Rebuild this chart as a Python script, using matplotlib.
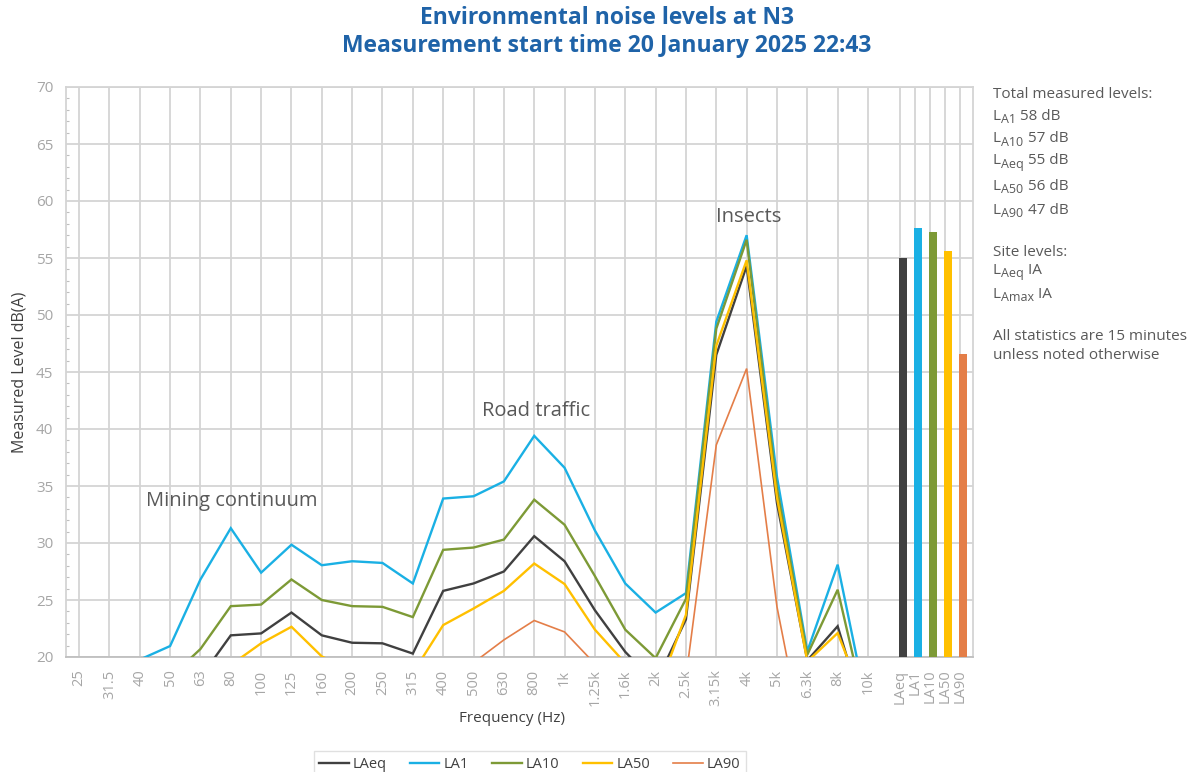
import numpy as np
import matplotlib
matplotlib.use("Agg")
import matplotlib.pyplot as plt
from matplotlib.ticker import MultipleLocator

plt.rcParams['font.family'] = ['Open Sans', 'DejaVu Sans']

# ---------------- data ----------------
freqs = ["25", "31.5", "40", "50", "63", "80", "100", "125", "160", "200", "250",
         "315", "400", "500", "630", "800", "1k", "1.25k", "1.6k", "2k", "2.5k",
         "3.15k", "4k", "5k", "6.3k", "8k", "10k"]

LAeq = [12, 13, 15, 16.5, 18.2, 21.9, 22.07, 23.9, 21.9, 21.25, 21.2, 20.3, 25.8, 26.45,
        27.5, 30.6, 28.4, 24.1, 20.45, 17.7, 23.3, 46.5, 54.3, 33.5, 19.7, 22.7, 13.9]
LA1 = [14, 16, 19.77, 20.96, 26.8, 31.3, 27.4, 29.85, 28.05, 28.4, 28.25, 26.45, 33.9, 34.1,
       35.4, 39.4, 36.6, 31.1, 26.45, 23.9, 25.6, 49.4, 57.0, 35.8, 20.5, 28.1, 15.2]
LA10 = [13, 14, 16, 18.2, 20.7, 24.46, 24.6, 26.8, 25.0, 24.46, 24.4, 23.5, 29.4, 29.6,
        30.3, 33.8, 31.6, 27.1, 22.4, 19.9, 25.1, 48.8, 56.6, 34.8, 20.2, 25.9, 14.4]
LA50 = [11, 12, 13, 15, 17, 19.3, 21.2, 22.65, 20.05, 18.8, 18.9, 18.6, 22.8, 24.25,
        25.8, 28.2, 26.4, 22.4, 19.46, 16.5, 23.7, 47.3, 54.8, 34.0, 19.6, 22.1, 15.3]
LA90 = [8, 9, 10, 11, 12, 13, 14, 15, 14, 14, 15, 16, 17.5, 19.5, 21.5, 23.2, 22.2, 19.4,
        16, 15, 18.2, 38.6, 45.3, 24.4, 10.9, 12, 10]

bar_labels = ["LAeq", "LA1", "LA10", "LA50", "LA90"]
bar_values = [55.0, 57.6, 57.3, 55.6, 46.6]

series_names = ["LAeq", "LA1", "LA10", "LA50", "LA90"]
series_values = [LAeq, LA1, LA10, LA50, LA90]
colors = ["#404040", "#1AB0E4", "#7D9A36", "#FFC000", "#E47E48"]
widths = [1.7, 1.7, 1.7, 1.7, 1.2]

# (main text, subscript, rest, y pixel)
summary_lines = [
    ("Total measured levels:", "", "", 95),
    ("L", "A1", " 58 dB", 116),
    ("L", "A10", " 57 dB", 139),
    ("L", "Aeq", " 55 dB", 161),
    ("L", "A50", " 56 dB", 186),
    ("L", "A90", " 47 dB", 210),
    ("Site levels:", "", "", 253),
    ("L", "Aeq", " IA", 270),
    ("L", "Amax", " IA", 294),
    ("All statistics are 15 minutes", "", "", 336),
    ("unless noted otherwise", "", "", 355),
]

# ---------------- figure ----------------
W, H = 1196, 772
fig = plt.figure(figsize=(W / 100, H / 100), dpi=100)
ax = fig.add_axes([65.7 / W, 1 - 657 / H, (973.3 - 65.7) / W, (657 - 87) / H])

x = np.arange(len(freqs))
bar_pos = len(freqs) + 0.05 + 0.494 * np.arange(len(bar_labels))

grid_c = "#D4D4D4"
for xi in list(x) + list(bar_pos):
    ax.axvline(xi, color=grid_c, lw=1.3, zorder=0)
ax.yaxis.grid(True, color=grid_c, lw=1.3, zorder=0)
ax.set_axisbelow(True)

handles = []
for name, vals, c, lw in zip(series_names, series_values, colors, widths):
    h, = ax.plot(x, vals, color=c, lw=lw, label=name, zorder=3, solid_joinstyle='miter')
    handles.append(h)

ax.bar(bar_pos + 0.1, bar_values, width=0.24, bottom=0, color=colors, zorder=3)

ax.set_xlim(-0.44, 29.47)
ax.set_ylim(20, 70)
ax.yaxis.set_major_locator(MultipleLocator(5))
ax.yaxis.set_minor_locator(MultipleLocator(1))

ax.set_xticks(list(x) + list(bar_pos))
ax.set_xticklabels(freqs + bar_labels, rotation=90, va='top', ha='center')
ax.tick_params(axis='x', length=0, pad=9, labelsize=10.5, labelcolor="#A6A6A6")
ax.tick_params(axis='y', which='major', length=0, pad=9, labelsize=11, labelcolor="#A6A6A6")
ax.tick_params(axis='y', which='minor', length=2.5, direction='in', color="#BFBFBF", width=0.8)

for side in ["top", "right", "left"]:
    ax.spines[side].set_color(grid_c)
    ax.spines[side].set_linewidth(1.3)
ax.spines["bottom"].set_color("#BFBFBF")
ax.spines["bottom"].set_linewidth(1.3)

ax.set_ylabel("Measured Level dB(A)", fontsize=11.5, color="#404040", labelpad=6)
fig.text(512 / W, 1 - 718 / H, "Frequency (Hz)", ha='center', va='center',
         fontsize=11, color="#404040")

# annotations
ann_c = "#595959"
ax.text(2.2, 33.7, "Mining continuum", fontsize=14.5, color=ann_c, va='center', ha='left')
ax.text(13.28, 41.6, "Road traffic", fontsize=14.5, color=ann_c, va='center', ha='left')
ax.text(20.99, 58.6, "Insects", fontsize=14.5, color=ann_c, va='center', ha='left')

# title
title_c = "#1F63A8"
fig.text(607 / W, 1 - 18 / H, "Environmental noise levels at N3", ha='center', va='center',
         fontsize=16.5, fontweight='bold', color=title_c)
fig.text(607 / W, 1 - 46 / H, "Measurement start time 20 January 2025 22:43", ha='center',
         va='center', fontsize=16.5, fontweight='bold', color=title_c)

# summary text on right (manual subscripts)
renderer = fig.canvas.get_renderer()
txt_c = "#595959"
for main, sub, rest, ypx in summary_lines:
    xpx = 993.0
    t = fig.text(xpx / W, 1 - ypx / H, main, ha='left', va='center', fontsize=11, color=txt_c)
    if sub:
        xpx = t.get_window_extent(renderer).x1 + 0.5
        t2 = fig.text(xpx / W, 1 - (ypx + 3.5) / H, sub, ha='left', va='center',
                      fontsize=9, color=txt_c)
        xpx = t2.get_window_extent(renderer).x1
        fig.text(xpx / W, 1 - ypx / H, rest, ha='left', va='center', fontsize=11, color=txt_c)

# legend
leg = fig.legend(handles=handles, labels=series_names, loc='upper center',
                 bbox_to_anchor=(530 / W, 1 - 744 / H), ncol=5, fontsize=10.5,
                 frameon=True, fancybox=False, edgecolor="#D9D9D9", handlelength=2.0,
                 handletextpad=0.3, columnspacing=1.6, borderpad=0.4)
for t in leg.get_texts():
    t.set_color("#404040")
leg.get_frame().set_linewidth(1.0)

fig.savefig("out.png", dpi=100)
